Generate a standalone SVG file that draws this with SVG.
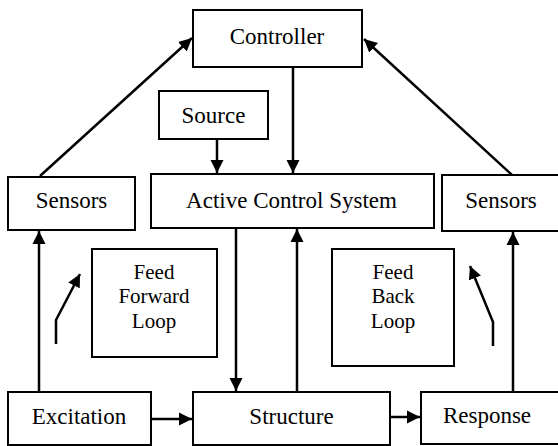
<svg xmlns="http://www.w3.org/2000/svg" width="558" height="446" viewBox="0 0 558 446">
<style>
.box{fill:#fff;stroke:#000;stroke-width:2}
.c{fill:none;stroke:#000;stroke-width:2.5}
</style>
<defs>
<marker id="ah" viewBox="0 0 10 10" refX="10" refY="5" markerWidth="5.2" markerHeight="5.5" markerUnits="strokeWidth" orient="auto">
<path d="M0,0 L10,5 L0,10 Z" fill="#000"/>
</marker>
</defs>
<rect width="558" height="446" fill="#fff"/>
<g id="connectors">
<line class="c" x1="40" y1="176" x2="192" y2="38" marker-end="url(#ah)"/>
<line class="c" x1="512" y1="175" x2="364" y2="39" marker-end="url(#ah)"/>
<line class="c" x1="293" y1="67" x2="293" y2="173" marker-end="url(#ah)"/>
<line class="c" x1="217" y1="139" x2="217" y2="173" marker-end="url(#ah)"/>
<line class="c" x1="236" y1="228" x2="236" y2="391" marker-end="url(#ah)"/>
<line class="c" x1="297" y1="392" x2="297" y2="229" marker-end="url(#ah)"/>
<line class="c" x1="39" y1="392" x2="39" y2="231" marker-end="url(#ah)"/>
<line class="c" x1="513" y1="392" x2="513" y2="232" marker-end="url(#ah)"/>
<line class="c" x1="151" y1="419" x2="192" y2="419" marker-end="url(#ah)"/>
<line class="c" x1="390" y1="417" x2="420" y2="417" marker-end="url(#ah)"/>
<polyline class="c" points="56,344 56,320 80,274" marker-end="url(#ah)"/>
<polyline class="c" points="493,346 493,322 470,266" marker-end="url(#ah)"/>
</g>
<g font-family="Liberation Serif, Times New Roman, serif" text-anchor="middle" fill="#000" font-size="23">
<g id="controller"><rect class="box" x="193" y="10" width="169" height="57"/><text x="277" y="44">Controller</text></g>
<g id="source"><rect class="box" x="159" y="91" width="109" height="48"/><text x="213.5" y="123">Source</text></g>
<g id="sensors-left"><rect class="box" x="8" y="177" width="127" height="53"/><text x="71.5" y="208">Sensors</text></g>
<g id="active-control-system"><rect class="box" x="151" y="174" width="283" height="54"/><text x="291.5" y="208">Active Control System</text></g>
<g id="sensors-right"><rect class="box" x="442" y="175" width="120" height="56"/><text x="501" y="208">Sensors</text></g>
<g id="feed-forward-loop" font-size="21"><rect class="box" x="92" y="249" width="125" height="108"/><text x="154" y="279">Feed</text><text x="154" y="303">Forward</text><text x="154" y="328">Loop</text></g>
<g id="feed-back-loop" font-size="21"><rect class="box" x="332" y="249" width="122" height="117"/><text x="393" y="279">Feed</text><text x="393" y="303">Back</text><text x="393" y="328">Loop</text></g>
<g id="excitation"><rect class="box" x="8" y="392" width="143" height="53"/><text x="79" y="424">Excitation</text></g>
<g id="structure"><rect class="box" x="193" y="392" width="197" height="53"/><text x="291.5" y="424">Structure</text></g>
<g id="response"><rect class="box" x="421" y="392" width="141" height="52"/><text x="487" y="423">Response</text></g>
</g>
</svg>
